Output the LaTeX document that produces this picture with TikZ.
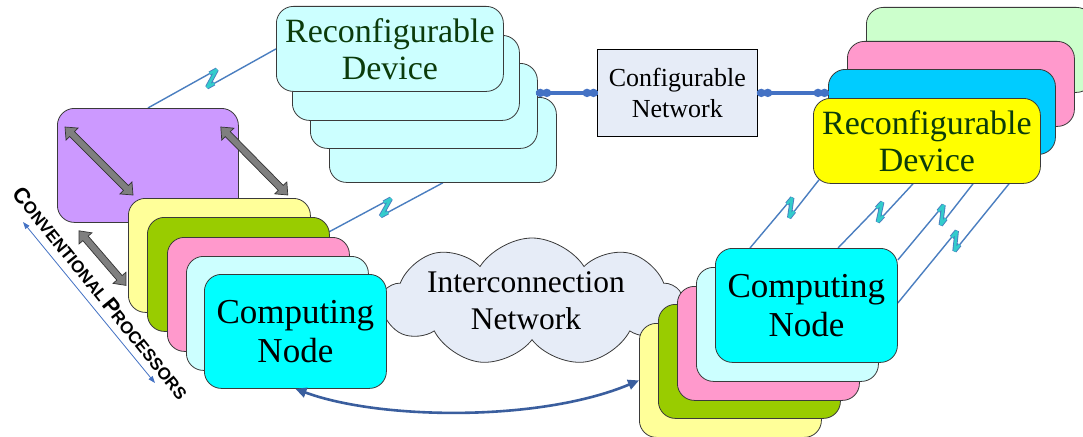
\documentclass[tikz,border=0pt]{standalone}
\usepackage{fontspec}
\setmainfont{Liberation Serif}
\newfontfamily\cpfont{Liberation Sans}
\usetikzlibrary{calc,arrows.meta,shapes.symbols}
\pgfdeclarelayer{bg}
\pgfsetlayers{bg,main}
\definecolor{edge}{HTML}{3A3A3A}
\definecolor{purp}{HTML}{CC99FF}
\definecolor{ylight}{HTML}{FFFF99}
\definecolor{gr}{HTML}{99CC00}
\definecolor{pk}{HTML}{FF99CC}
\definecolor{lcy}{HTML}{CCFFFF}
\definecolor{cy}{HTML}{00FFFF}
\definecolor{lgr}{HTML}{CCFFCC}
\definecolor{bl}{HTML}{00CCFF}
\definecolor{yl}{HTML}{FFFF00}
\definecolor{netfill}{HTML}{E6ECF7}
\definecolor{dkgreen}{HTML}{0B3B0B}
\definecolor{linkblue}{HTML}{4472C4}
\definecolor{boltblue}{HTML}{4A7EC0}
\definecolor{boltcyan}{HTML}{33CCCC}
\definecolor{curveblue}{HTML}{3A5E9E}
\definecolor{arrgray}{HTML}{7F7F7F}
\newcommand\myCNfont{\fontsize{35}{39}\selectfont}
\newcommand\myRDfont{\fontsize{34}{37}\selectfont}
\newcommand\myNETfont{\fontsize{26}{31}\selectfont}
\newcommand\myICfont{\fontsize{31.5}{37}\selectfont}
\tikzset{
  bx/.style={draw=edge, line width=0.8pt, rounded corners=17pt, anchor=north west, inner sep=0pt, align=center},
  cbox/.style={bx, minimum width=182pt, minimum height=114pt, font=\myCNfont},
  rbox/.style={bx, minimum width=227pt, minimum height=85pt, font=\myRDfont, text=dkgreen},
  boltline/.style={draw=boltblue, line width=1.4pt, line join=bevel},
  boltjag/.style={draw=boltblue, double=boltcyan, double distance=2.6pt, line width=0.9pt, line join=bevel, line cap=butt},
  blockarr/.style={draw=black!80, fill=arrgray, line width=0.7pt, line join=miter},
  linkline/.style={draw=linkblue, line width=3.6pt},
  linkdot/.style={fill=linkblue},
  curvarr/.style={draw=curveblue, line width=2.6pt, arrows={Triangle[length=11pt,width=10pt]-Triangle[length=11pt,width=10pt]}},
  thinarr/.style={draw=linkblue, line width=0.8pt, arrows={Triangle[length=7pt,width=5pt]-Triangle[length=7pt,width=5pt]}}
}
\newcommand\bolt[3]{%
  \coordinate (bM) at ($(#1)!#3!(#2)$);
  \coordinate (bT0) at ($(bM)!8pt!(#2)$);
  \coordinate (bT) at ($(bT0)!6pt!90:(#2)$);
  \coordinate (bU0) at ($(bM)!8pt!(#1)$);
  \coordinate (bU) at ($(bU0)!6pt!90:(#1)$);
  \draw[boltline] (#1) -- (bT) -- (bU) -- (#2);
  \draw[boltjag] ($(bT)!8pt!(#1)$) -- (bT) -- (bU) -- ($(bU)!8pt!(#2)$);
}
\newcommand\linkdots[2]{%
  \fill[linkdot] ($(#1)!4.5pt!(#2)$) ellipse[x radius=4.5pt, y radius=4.2pt];
  \fill[linkdot] ($(#1)!11pt!(#2)$) ellipse[x radius=4.5pt, y radius=4.2pt];
}
\newcommand\blockarrow[2]{%
  \draw[blockarr] let \p1=($(#2)-(#1)$), \n1={atan2(\y1,\x1)}, \n2={\n1+90}, \n3={\n1-90}, \n4={\n1+180} in
   (#1) -- ($(#1)+(\n1:10pt)+(\n2:8.5pt)$) -- ($(#1)+(\n1:10pt)+(\n2:3.5pt)$)
   -- ($(#2)+(\n4:10pt)+(\n2:3.5pt)$) -- ($(#2)+(\n4:10pt)+(\n2:8.5pt)$) -- (#2)
   -- ($(#2)+(\n4:10pt)+(\n3:8.5pt)$) -- ($(#2)+(\n4:10pt)+(\n3:3.5pt)$)
   -- ($(#1)+(\n1:10pt)+(\n3:3.5pt)$) -- ($(#1)+(\n1:10pt)+(\n3:8.5pt)$) -- cycle;
}
\begin{document}
\begin{tikzpicture}[x=1pt,y=-1pt]
\useasboundingbox (0,0) rectangle (1083,436);
\clip (0,0) rectangle (1083,436);
\begin{pgfonlayer}{bg}
\fill[white] (0,0) rectangle (1083,436);
\end{pgfonlayer}

% cloud
\node[cloud, cloud puffs=9, cloud puff arc=115, cloud ignores aspect, draw=edge, line width=0.8pt, fill=netfill,
      minimum width=300pt, minimum height=128pt, inner sep=0pt] (cloud) at (532,302) {};
\node[font=\myICfont, align=center, inner sep=0pt] (cloudtxt) at (526,301) {Interconnection\\Network};

% left reconfigurable stack
\node[rbox, fill=lcy] (rd4) at (329,97) {};
\node[rbox, fill=lcy] (rd3) at (310,63) {};
\node[rbox, fill=lcy] (rd2) at (292,35) {};
\node[rbox, fill=lcy] (rd1) at (276,6) {Reconfigurable\\Device};

% configurable network
\node[draw=black, fill=netfill, line width=0.8pt, minimum width=160pt, minimum height=87pt, anchor=north west,
      inner sep=0pt, align=center, font=\myNETfont] (cn) at (597,49) {Configurable\\Network};

% right reconfigurable stack
\node[rbox, fill=lgr] (rG) at (866,7) {};
\node[rbox, fill=pk] (rP) at (847,41) {};
\node[rbox, fill=bl] (rB) at (828,69) {};
\node[rbox, fill=yl] (rY) at (813,98) {Reconfigurable\\Device};

% conventional processor (purple)
\node[bx, fill=purp, minimum width=181pt, minimum height=114pt] (cp) at (57,108) {};

% left computing stack
\node[cbox, fill=ylight] (cL1) at (128,198) {};
\node[cbox, fill=gr] (cL2) at (147,217) {};
\node[cbox, fill=pk] (cL3) at (167,237) {};
\node[cbox, fill=lcy] (cL4) at (186,256) {};
\node[cbox, fill=cy] (cL5) at (204,274) {Computing\\Node};

% right computing stack
\node[cbox, fill=ylight] (cR1) at (639,323) {};
\node[cbox, fill=gr] (cR2) at (658,304) {};
\node[cbox, fill=pk] (cR3) at (677,286) {};
\node[cbox, fill=lcy] (cR4) at (696,267) {};
\node[cbox, fill=cy] (cR5) at (715,248) {Computing\\Node};

% wireless links (behind boxes)
\begin{pgfonlayer}{bg}
  \coordinate (w1a) at (cp.north);
  \coordinate (w1b) at (rd1.west);
  \bolt{w1a}{w1b}{0.5}
  \coordinate (w2a) at ($(cL2.north east)+(-1,15)$);
  \coordinate (w2b) at (rd4.south);
  \bolt{w2a}{w2b}{0.5}
  \coordinate (r1a) at ($(cR5.north west)+(35,0)$);
  \coordinate (r1b) at ($(rY.south west)+(6,-4)$);
  \bolt{r1a}{r1b}{0.59}
  \coordinate (r2a) at ($(cR5.north west)+(123,0)$);
  \coordinate (r2b) at ($(rY.south west)+(100,0)$);
  \bolt{r2a}{r2b}{0.56}
  \coordinate (r3a) at ($(cR5.north east)+(0,12)$);
  \coordinate (r3b) at ($(rY.south west)+(160,0)$);
  \bolt{r3a}{r3b}{0.59}
  \coordinate (r4a) at ($(cR5.north east)+(0,55)$);
  \coordinate (r4b) at ($(rY.south west)+(196,0)$);
  \bolt{r4a}{r4b}{0.52}
\end{pgfonlayer}

% gray block arrows
\coordinate (g1a) at ($(cp.north west)+(8,19)$);
\coordinate (g1b) at ($(cp.north west)+(76,87)$);
\coordinate (g2a) at ($(cp.north east)+(-18,19)$);
\coordinate (g2b) at ($(cL1.north east)+(-23,-3)$);
\coordinate (g3a) at ($(cp.south west)+(22,8)$);
\coordinate (g3b) at ($(cL1.west)+(-2,30)$);
\blockarrow{g1a}{g1b}
\blockarrow{g2a}{g2b}
\blockarrow{g3a}{g3b}

% configurable network links
\coordinate (l1a) at ($(cn.west -| rd3.east)+(-2,0)$);
\coordinate (l1b) at ($(cn.west)+(1,0)$);
\coordinate (l2a) at ($(cn.east)+(-1,0)$);
\coordinate (l2b) at ($(cn.east -| rB.west)+(1,0)$);
\draw[linkline] (l1a) -- (l1b);
\linkdots{l1a}{l1b}
\linkdots{l1b}{l1a}
\draw[linkline] (l2a) -- (l2b);
\linkdots{l2a}{l2b}
\linkdots{l2b}{l2a}

% interconnection curve
\draw[curvarr] (cL5.south) .. controls (380,420) and (540,422) .. (cR1.west);

% conventional processors label
\coordinate (ta) at (23,222);
\coordinate (tb) at (155,383);
\draw[thinarr] (ta) -- (tb);
\node[rotate=-51, font=\cpfont\bfseries, inner sep=0pt] (cplabel) at (101,293)
  {{\fontsize{22}{22}\selectfont C}{\fontsize{17}{17}\selectfont ONVENTIONAL}\ {\fontsize{22}{22}\selectfont P}{\fontsize{17}{17}\selectfont ROCESSORS}};
\end{tikzpicture}
\end{document}
